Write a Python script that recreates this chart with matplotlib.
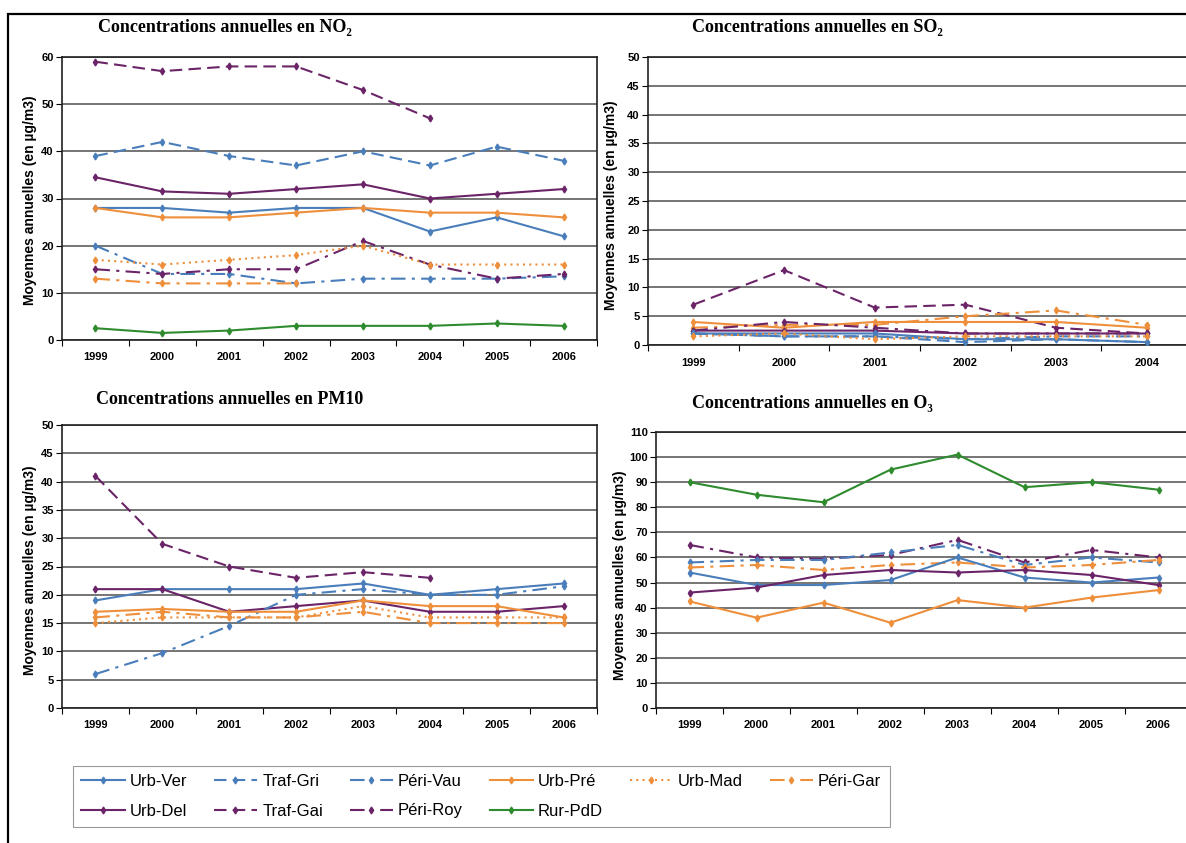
import matplotlib
matplotlib.use("Agg")
import matplotlib.pyplot as plt
from matplotlib.lines import Line2D
from matplotlib.patches import Rectangle
import numpy as np

nan = np.nan

years = ['1999', '2000', '2001', '2002', '2003', '2004', '2005', '2006']
years_so2 = years[:6]

stations = ['Urb-Ver', 'Traf-Gri', 'Péri-Vau', 'Urb-Pré', 'Urb-Mad',
            'Péri-Gar', 'Urb-Del', 'Traf-Gai', 'Péri-Roy', 'Rur-PdD']

# annual means, µg/m3
no2 = {
    'Traf-Gai': [59, 57, 58, 58, 53, 47, nan, nan],
    'Traf-Gri': [39, 42, 39, 37, 40, 37, 41, 38],
    'Urb-Del': [34.5, 31.5, 31, 32, 33, 30, 31, 32],
    'Urb-Ver': [28, 28, 27, 28, 28, 23, 26, 22],
    'Urb-Pré': [28, 26, 26, 27, 28, 27, 27, 26],
    'Péri-Vau': [20, 14, 14, 12, 13, 13, 13, 13.5],
    'Péri-Roy': [15, 14, 15, 15, 21, 16, 13, 14],
    'Urb-Mad': [17, 16, 17, 18, 20, 16, 16, 16],
    'Péri-Gar': [13, 12, 12, 12, nan, nan, nan, nan],
    'Rur-PdD': [2.5, 1.5, 2, 3, 3, 3, 3.5, 3],
}

so2 = {
    'Traf-Gai': [7, 13, 6.5, 7, 3, 2],
    'Urb-Pré': [4, 3, 4, 4, 4, 3],
    'Péri-Gar': [3, 3.5, 3.5, 5, 6, 3.5],
    'Péri-Roy': [2.5, 4, 3, 2, 2, 2],
    'Urb-Del': [2.5, 2.5, 2.5, 2, 2, 2],
    'Urb-Ver': [2, 2, 2, 1, 1, 0.5],
    'Traf-Gri': [2, 1.5, 1.5, 0.5, 1, 0.5],
    'Péri-Vau': [2, 1.5, 1.5, 1, 1.5, 1.5],
    'Urb-Mad': [1.5, 2, 1, 1.5, 1.5, 1.5],
}

pm10 = {
    'Traf-Gai': [41, 29, 25, 23, 24, 23, nan, nan],
    'Urb-Ver': [19, 21, 21, 21, 22, 20, 21, 22],
    'Urb-Del': [21, 21, 17, 18, 19, 17, 17, 18],
    'Péri-Vau': [6, 9.7, 14.5, 20, 21, 20, 20, 21.5],
    'Urb-Pré': [17, 17.5, 17, 17, 19, 18, 18, 16],
    'Urb-Mad': [15, 16, 16, 16, 18, 16, 16, 16],
    'Péri-Gar': [16, 17, 16, 16, 17, 15, 15, 15],
}

o3 = {
    'Rur-PdD': [90, 85, 82, 95, 101, 88, 90, 87],
    'Péri-Roy': [65, 60, 59.5, 61, 67, 58, 63, 60],
    'Péri-Vau': [58, 59, 59, 62, 65, 57, 60, 58],
    'Péri-Gar': [56, 57, 55, 57, 58, 56, 57, 59],
    'Urb-Ver': [54, 49, 49, 51, 60, 52, 50, 52],
    'Urb-Del': [46, 48, 53, 55, 54, 55, 53, 49],
    'Urb-Pré': [42.5, 36, 42, 34, 43, 40, 44, 47],
}

blue = '#4a7ebb'
orange = '#ee8f3c'
purple = '#6b2468'
green = '#2e8b2e'
dash = (0, (6, 3))
dashdot = (0, (7, 3, 1.5, 3))
dot = (0, (1, 2))

style = {
    'Urb-Ver': (blue, '-'), 'Traf-Gri': (blue, dash), 'Péri-Vau': (blue, dashdot),
    'Urb-Pré': (orange, '-'), 'Urb-Mad': (orange, dot), 'Péri-Gar': (orange, dashdot),
    'Urb-Del': (purple, '-'), 'Traf-Gai': (purple, dash), 'Péri-Roy': (purple, dashdot),
    'Rur-PdD': (green, '-'),
}

W, H = 1186, 843
fig = plt.figure(figsize=(W / 100, H / 100), dpi=100)


def box(l, r, t, b):
    return [l / W, 1 - b / H, (r - l) / W, (b - t) / H]


def panel(rect, data, labels, ymax, step, title, title_xy, ylab_xy):
    ax = fig.add_axes(box(*rect))
    x = np.arange(len(labels))
    for name, vals in data.items():
        c, ls = style[name]
        ax.plot(x, vals, color=c, ls=ls, lw=1.5, marker='d', ms=3.5,
                mec=c, mfc=c, zorder=3)
    ax.set_xlim(-0.5, len(labels) - 0.5)
    ax.set_ylim(0, ymax)
    ax.set_yticks(np.arange(0, ymax + 1, step))
    ax.yaxis.grid(True, color='#505050', lw=1.1)
    ax.set_axisbelow(True)
    ax.set_xticks(np.arange(-0.5, len(labels)), minor=False)
    ax.set_xticklabels([])
    ax.set_xticks(x, minor=True)
    ax.set_xticklabels(labels, minor=True)
    ax.tick_params(axis='x', which='minor', length=0, pad=9)
    ax.tick_params(axis='x', which='major', length=4, direction='out')
    ax.tick_params(axis='y', length=4, direction='out', pad=2)
    for lab in ax.get_xticklabels(minor=True) + ax.get_yticklabels():
        lab.set_fontsize(8)
        lab.set_fontweight('bold')
        lab.set_family(['Liberation Sans', 'DejaVu Sans'])
    for sp in ax.spines.values():
        sp.set_color('#202020')
        sp.set_linewidth(1.2)
    fig.text(title_xy[0] / W, 1 - title_xy[1] / H, title, ha='center', va='center',
             fontsize=13, fontweight='bold',
             family=['Liberation Serif', 'DejaVu Serif'])
    fig.text(ylab_xy[0] / W, 1 - ylab_xy[1] / H, 'Moyennes annuelles (en µg/m3)',
             rotation=90, ha='center', va='center', fontsize=10,
             fontweight='bold', family=['Liberation Sans', 'DejaVu Sans'])
    return ax


panel((62, 597, 57, 340), no2, years, 60, 10, 'Concentrations annuelles en NO₂',
      (225, 28), (30, 200))
panel((648, 1192, 57, 345), so2, years_so2, 50, 5, 'Concentrations annuelles en SO₂',
      (817, 28), (611, 205))
panel((62, 597, 425, 708), pm10, years, 50, 5, 'Concentrations annuelles en PM10',
      (230, 400), (30, 570))
panel((656, 1192, 432, 708), o3, years, 110, 10, 'Concentrations annuelles en O₃',
      (812, 403), (620, 575))

# legend, ordered column by column so that rows read like the original
order = ['Urb-Ver', 'Urb-Del', 'Traf-Gri', 'Traf-Gai', 'Péri-Vau', 'Péri-Roy',
         'Urb-Pré', 'Rur-PdD', 'Urb-Mad', 'Péri-Gar']
handles = [Line2D([], [], color=style[s][0], ls=style[s][1], lw=1.5, marker='d',
                  ms=3.5) for s in order]
leg = fig.legend(handles, order, ncol=6, loc='upper left',
                 bbox_to_anchor=(73 / W, 1 - 766 / H),
                 prop={'family': ['Liberation Sans', 'DejaVu Sans'], 'size': 12},
                 frameon=True, fancybox=False, shadow=False, handlelength=2.6,
                 handletextpad=0.3, columnspacing=1.6, borderpad=0.5,
                 labelspacing=0.85, borderaxespad=0)
leg.get_frame().set_edgecolor('#808080')
leg.get_frame().set_linewidth(0.8)

fig.add_artist(Rectangle((8 / W, -0.05), 1.2, 1 - 14 / H + 0.05,
                         transform=fig.transFigure, fill=False, lw=1.6,
                         ec='black', clip_on=False))

fig.savefig('out.png', dpi=100)
